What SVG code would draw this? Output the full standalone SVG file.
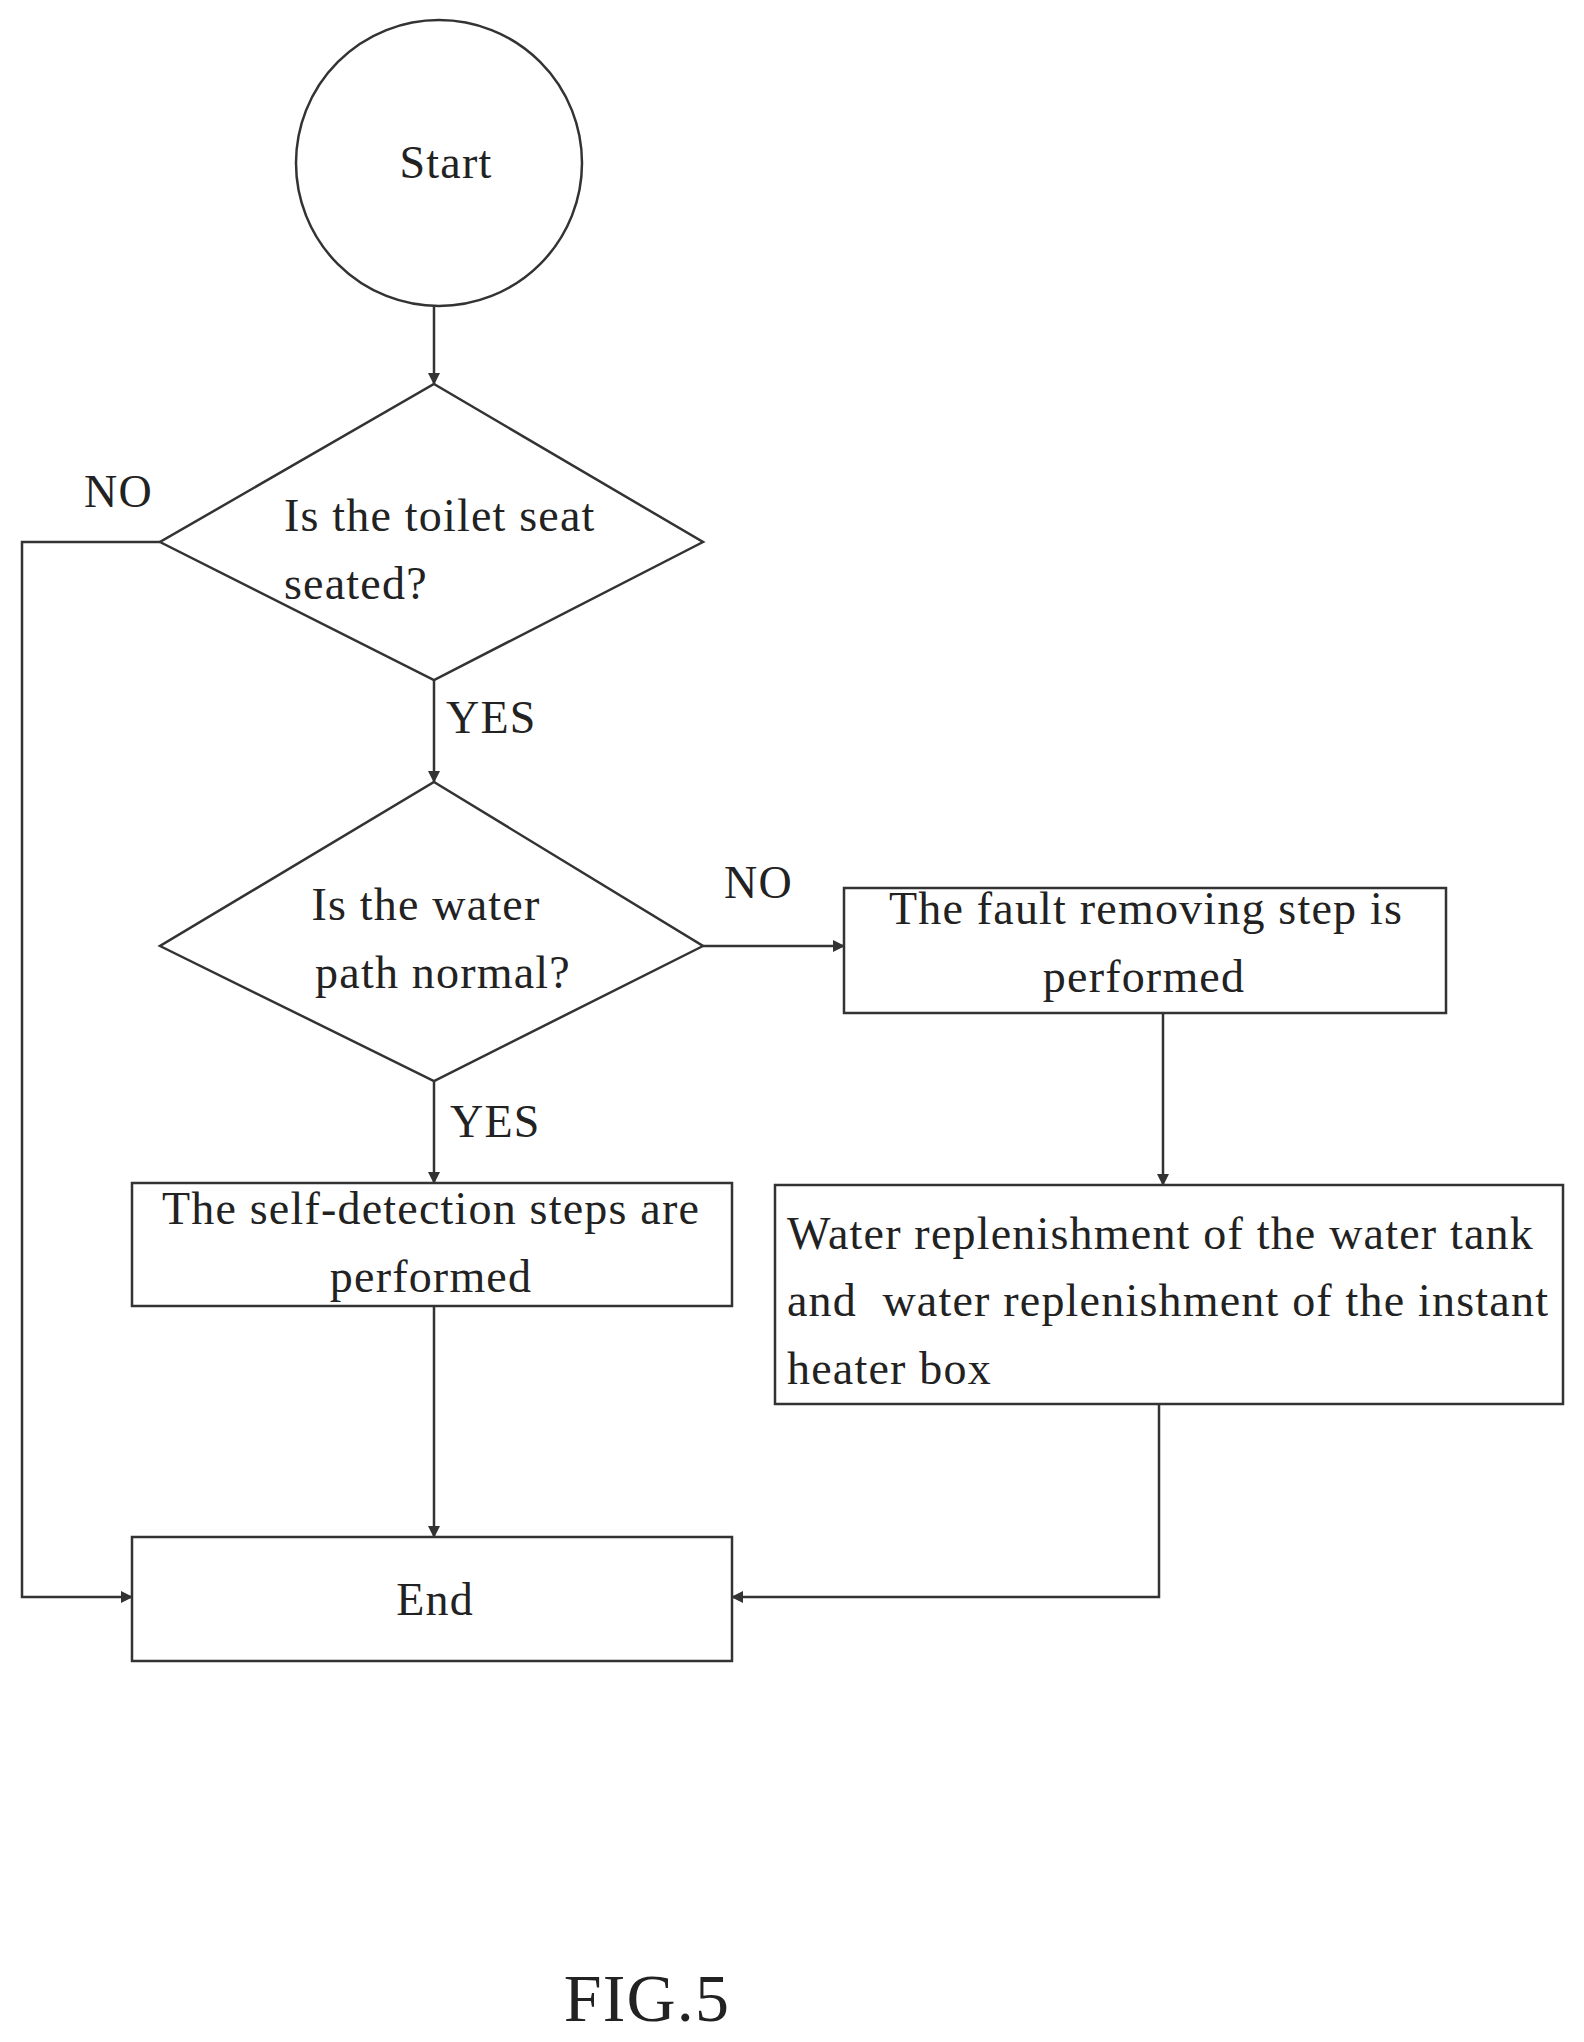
<svg xmlns="http://www.w3.org/2000/svg" width="1584" height="2042" viewBox="0 0 1584 2042">
<style>
.s{fill:none;stroke:#333;stroke-width:2.5}
.t{font-family:"Liberation Serif",serif;font-size:46px;letter-spacing:1.2px;fill:#222}
.c{text-anchor:middle}
</style>
<defs>
<marker id="a" markerWidth="12" markerHeight="12" refX="11" refY="6" orient="auto" markerUnits="userSpaceOnUse">
<path d="M0,0 L12,6 L0,12 Z" fill="#333"/>
</marker>
</defs>
<rect width="1584" height="2042" fill="#fff"/>
<g id="start"><circle class="s" cx="439" cy="163" r="143"/><text class="t c" x="446" y="178">Start</text></g>
<g id="d1"><polygon class="s" points="434,384 703,542 434,680 160,542"/>
<text class="t" x="284" y="531">Is the toilet seat</text><text class="t" x="284" y="599">seated?</text></g>
<g id="d2"><polygon class="s" points="434,782 703,946 434,1081 160,946"/>
<text class="t c" x="426" y="920">Is the water</text><text class="t c" x="443" y="988">path normal?</text></g>
<g id="fault"><rect class="s" x="844" y="888" width="602" height="125"/>
<text class="t c" x="1146" y="924">The fault removing step is</text><text class="t c" x="1144" y="992">performed</text></g>
<g id="water"><rect class="s" x="775" y="1185" width="788" height="219"/>
<text class="t" x="787" y="1249">Water replenishment of the water tank</text>
<text class="t" x="787" y="1316" xml:space="preserve">and  water replenishment of the instant</text>
<text class="t" x="787" y="1384">heater box</text></g>
<g id="self"><rect class="s" x="132" y="1183" width="600" height="123"/>
<text class="t c" x="431" y="1224">The self-detection steps are</text><text class="t c" x="431" y="1292">performed</text></g>
<g id="end"><rect class="s" x="132" y="1537" width="600" height="124"/><text class="t c" x="435" y="1615">End</text></g>
<g id="connectors">
<line class="s" x1="434" y1="306" x2="434" y2="384" marker-end="url(#a)"/>
<polyline class="s" points="160,542 22,542 22,1597 132,1597" marker-end="url(#a)"/>
<line class="s" x1="434" y1="680" x2="434" y2="782" marker-end="url(#a)"/>
<line class="s" x1="703" y1="946" x2="844" y2="946" marker-end="url(#a)"/>
<line class="s" x1="1163" y1="1013" x2="1163" y2="1185" marker-end="url(#a)"/>
<line class="s" x1="434" y1="1081" x2="434" y2="1183" marker-end="url(#a)"/>
<line class="s" x1="434" y1="1306" x2="434" y2="1537" marker-end="url(#a)"/>
<polyline class="s" points="1159,1404 1159,1597 732,1597" marker-end="url(#a)"/>
<text class="t" x="84" y="507">NO</text>
<text class="t" x="446" y="733">YES</text>
<text class="t" x="724" y="898">NO</text>
<text class="t" x="450" y="1137">YES</text>
</g>
<text class="t c" x="647" y="2021" style="font-size:68px">FIG.5</text>
</svg>
